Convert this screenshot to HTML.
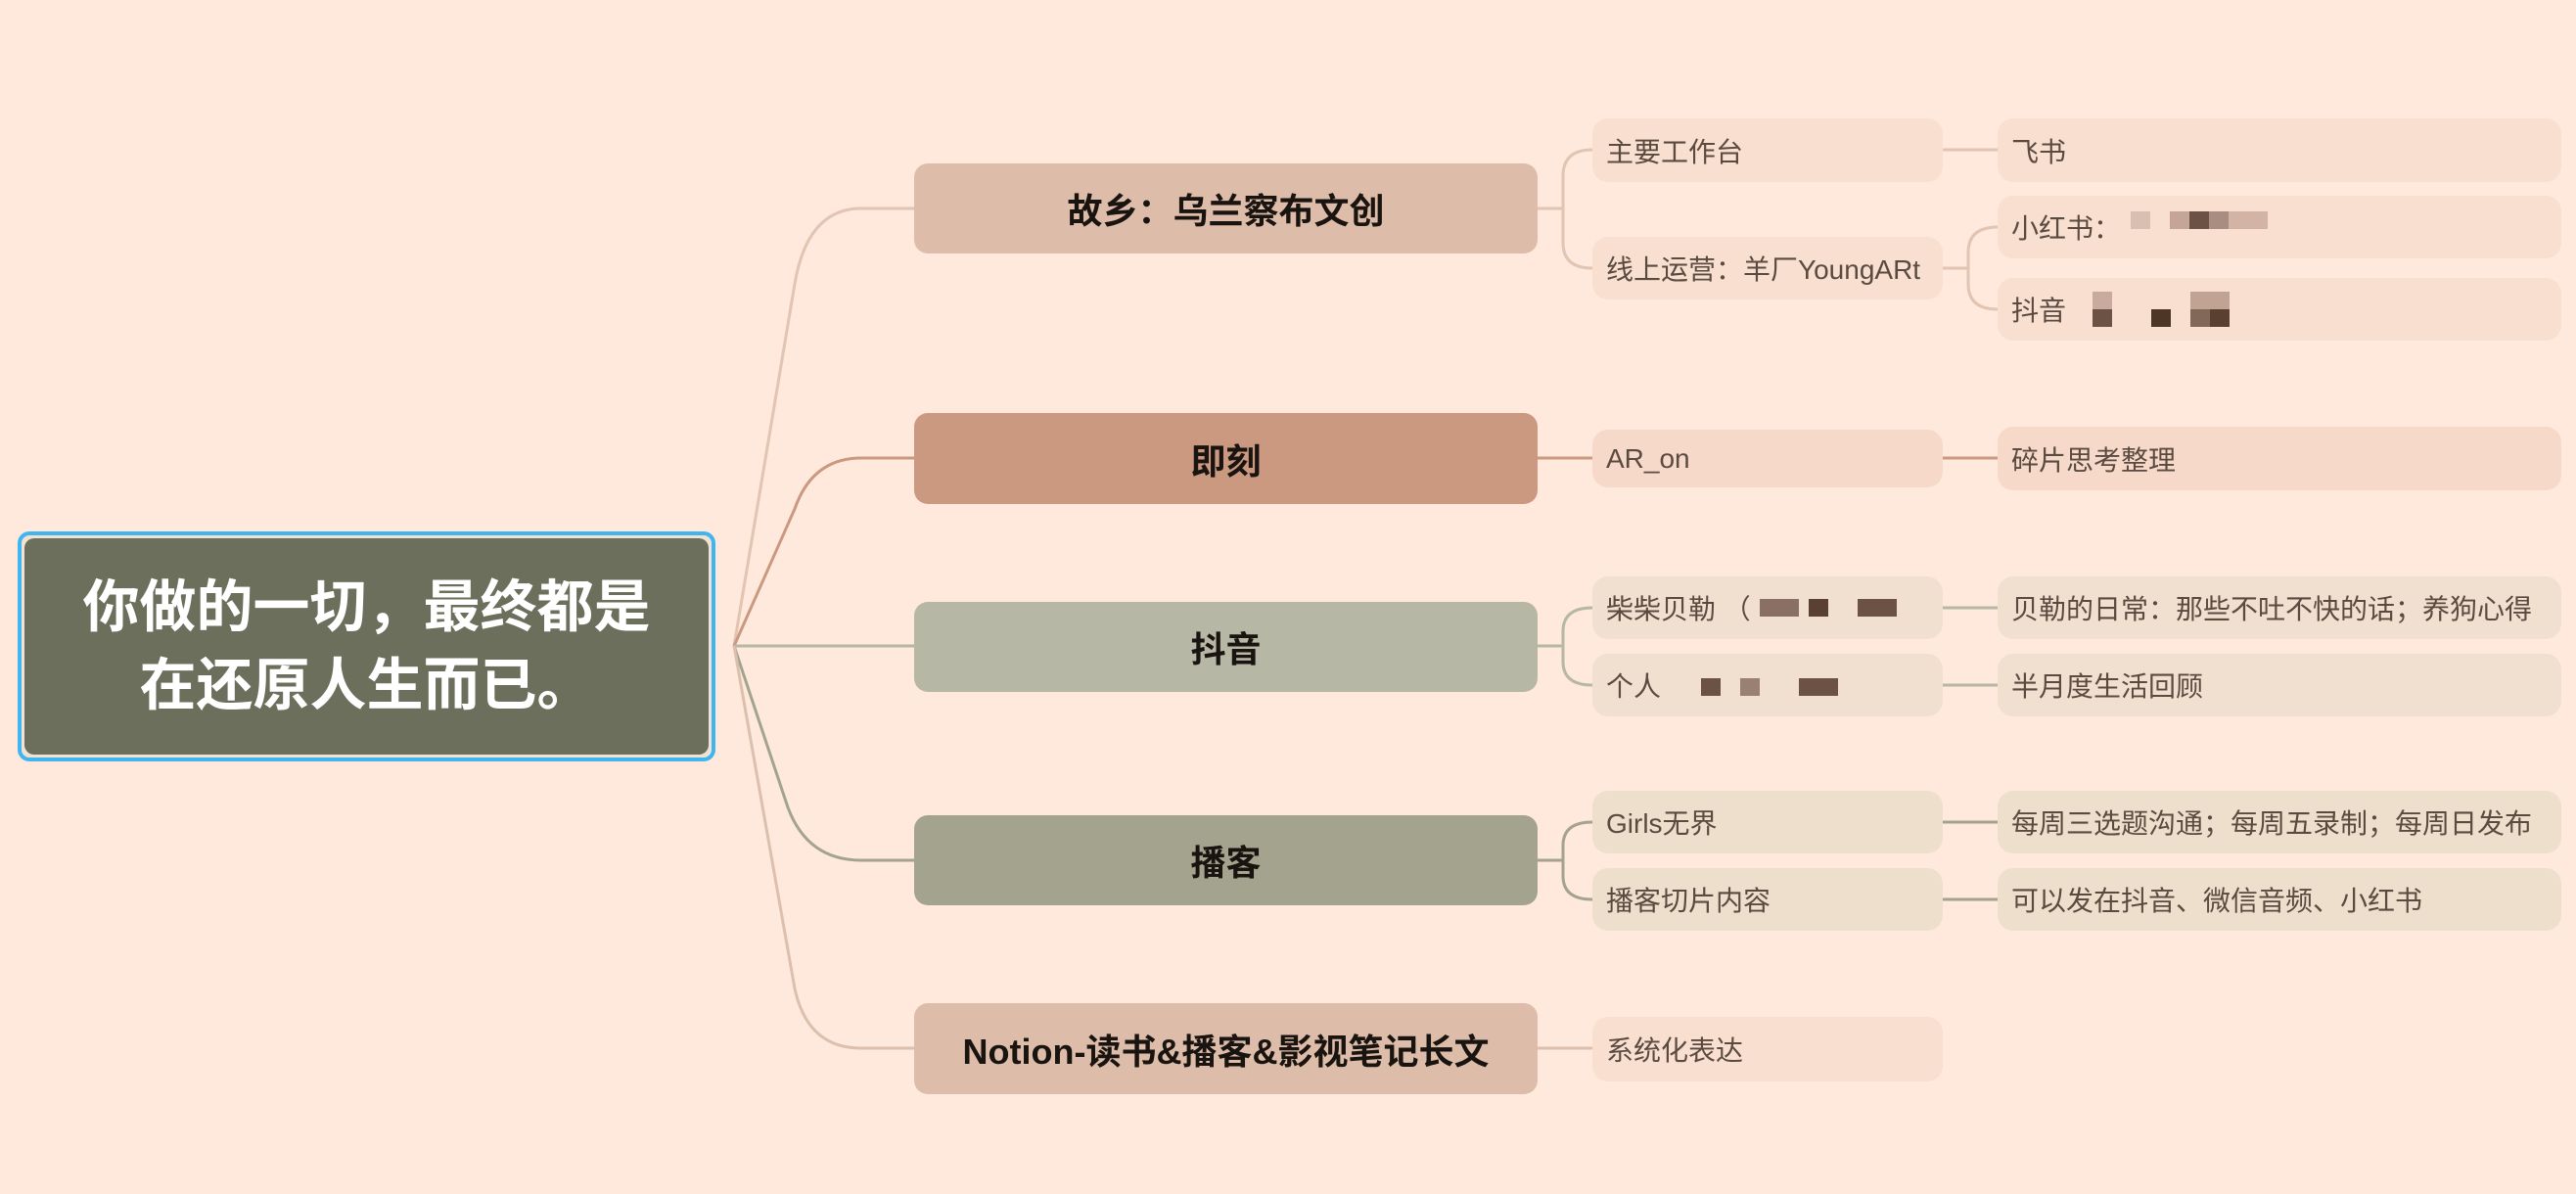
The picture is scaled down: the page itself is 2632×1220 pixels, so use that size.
<!DOCTYPE html>
<html><head><meta charset="utf-8"><style>
body{margin:0;width:2632px;height:1220px;background:#fee9dc;position:relative;overflow:hidden;font-family:"Liberation Sans","Noto Sans CJK SC",sans-serif}
.n{position:absolute;box-sizing:border-box;display:flex;align-items:center;border-radius:14px}
.m{justify-content:center;font-weight:bold;font-size:36px;color:#1a1410}
.s{padding-left:14px;font-size:28px;color:#5a4a40;border-radius:16px}
.b{position:absolute;height:18px}
svg{position:absolute;left:0;top:0}
</style></head><body>
<svg width="2632" height="1220" fill="none" stroke-width="3">
<path d="M750 660 L812 290 Q825 213 880 213 L934 213" stroke="#e2c4b2"/>
<path d="M750 660 L812 520 Q830 468 880 468 L934 468" stroke="#cb9880"/>
<path d="M750 660 L934 660" stroke="#b6b7a4"/>
<path d="M750 660 L805 825 Q825 879 880 879 L934 879" stroke="#a4a48e"/>
<path d="M750 660 L812 1010 Q825 1071 880 1071 L934 1071" stroke="#dcc0ad"/>
<path d="M1571 213 L1597 213 M1627 153 Q1597 153 1597 180 L1597 248 Q1597 274 1627 274" stroke="#e2c4b2"/>
<path d="M1985 153 L2041 153 M1985 274 L2011 274 M2041 232 Q2011 232 2011 258 L2011 290 Q2011 316 2041 316" stroke="#e2c4b2"/>
<path d="M1571 468 L1627 468 M1985 468 L2041 468" stroke="#cb9880"/>
<path d="M1571 660 L1597 660 M1627 621 Q1597 621 1597 645 L1597 676 Q1597 700 1627 700 M1985 621 L2041 621 M1985 700 L2041 700" stroke="#b6b7a4"/>
<path d="M1571 879 L1597 879 M1627 840 Q1597 840 1597 864 L1597 895 Q1597 919 1627 919 M1985 840 L2041 840 M1985 919 L2041 919" stroke="#a4a48e"/>
<path d="M1571 1071 L1627 1071" stroke="#dcc0ad"/>
</svg>
<div class="n" style="left:18px;top:543px;width:713px;height:235px;border:4px solid #3fb6f0;border-radius:12px;background:#f1e2d4;padding:3px"><div style="width:100%;height:100%;background:#6b6f5b;border-radius:10px;color:#fff;font-weight:bold;font-size:58px;line-height:80px;text-align:center;display:flex;align-items:center;justify-content:center">你做的一切，最终都是<br>在还原人生而已。</div></div>
<div class="n m" style="left:934px;top:167px;width:637px;height:92px;background:#ddbda9">故乡：乌兰察布文创</div>
<div class="n m" style="left:934px;top:422px;width:637px;height:93px;background:#cb9880">即刻</div>
<div class="n m" style="left:934px;top:615px;width:637px;height:92px;background:#b6b7a4">抖音</div>
<div class="n m" style="left:934px;top:833px;width:637px;height:92px;background:#a4a48e">播客</div>
<div class="n m" style="left:934px;top:1025px;width:637px;height:93px;background:#ddbda9">Notion-读书&amp;播客&amp;影视笔记长文</div>

<div class="n s" style="left:1627px;top:121px;width:358px;height:65px;background:#f8dfcf">主要工作台</div>
<div class="n s" style="left:1627px;top:242px;width:358px;height:64px;background:#f8dfcf">线上运营：羊厂YoungARt</div>
<div class="n s" style="left:2041px;top:121px;width:576px;height:65px;background:#f8dfcf">飞书</div>
<div class="n s" style="left:2041px;top:200px;width:576px;height:64px;background:#f8dfcf">小红书：</div>
<div class="n s" style="left:2041px;top:284px;width:576px;height:64px;background:#f8dfcf">抖音</div>
<div class="n s" style="left:1627px;top:439px;width:358px;height:59px;background:#f6d9c8">AR_on</div>
<div class="n s" style="left:2041px;top:436px;width:576px;height:65px;background:#f6d9c8">碎片思考整理</div>
<div class="n s" style="left:1627px;top:589px;width:358px;height:64px;background:#f1e0d0">柴柴贝勒 （</div>
<div class="n s" style="left:1627px;top:668px;width:358px;height:64px;background:#f1e0d0">个人</div>
<div class="n s" style="left:2041px;top:589px;width:576px;height:64px;background:#f1e0d0">贝勒的日常：那些不吐不快的话；养狗心得</div>
<div class="n s" style="left:2041px;top:668px;width:576px;height:64px;background:#f1e0d0">半月度生活回顾</div>
<div class="n s" style="left:1627px;top:808px;width:358px;height:64px;background:#eedfcc">Girls无界</div>
<div class="n s" style="left:1627px;top:887px;width:358px;height:64px;background:#eedfcc">播客切片内容</div>
<div class="n s" style="left:2041px;top:808px;width:576px;height:64px;background:#eedfcc">每周三选题沟通；每周五录制；每周日发布</div>
<div class="n s" style="left:2041px;top:887px;width:576px;height:64px;background:#eedfcc">可以发在抖音、微信音频、小红书</div>
<div class="n s" style="left:1627px;top:1039px;width:358px;height:66px;background:#f8dfcf">系统化表达</div>

<div class="b" style="left:2177px;top:216px;width:20px;background:#d8bfb2"></div>
<div class="b" style="left:2217px;top:216px;width:20px;background:#c4a596"></div>
<div class="b" style="left:2237px;top:216px;width:20px;background:#6c5244"></div>
<div class="b" style="left:2257px;top:216px;width:20px;background:#a88d80"></div>
<div class="b" style="left:2277px;top:216px;width:40px;background:#d2b3a4"></div>
<div class="b" style="left:2138px;top:316px;width:20px;background:#6c5244"></div>
<div class="b" style="left:2138px;top:298px;width:20px;background:#c8ab9c"></div>
<div class="b" style="left:2198px;top:316px;width:20px;background:#4e3626"></div>
<div class="b" style="left:2238px;top:316px;width:20px;background:#826858"></div>
<div class="b" style="left:2258px;top:316px;width:20px;background:#5a4030"></div>
<div class="b" style="left:2238px;top:298px;width:40px;background:#c0a392"></div>
<div class="b" style="left:1798px;top:612px;width:40px;background:#8a7064"></div>
<div class="b" style="left:1848px;top:612px;width:20px;background:#5a4030"></div>
<div class="b" style="left:1898px;top:612px;width:40px;background:#6c5244"></div>
<div class="b" style="left:1738px;top:693px;width:20px;background:#6c5244"></div>
<div class="b" style="left:1778px;top:693px;width:20px;background:#9a8070"></div>
<div class="b" style="left:1838px;top:693px;width:40px;background:#6c5244"></div>
</body></html>
